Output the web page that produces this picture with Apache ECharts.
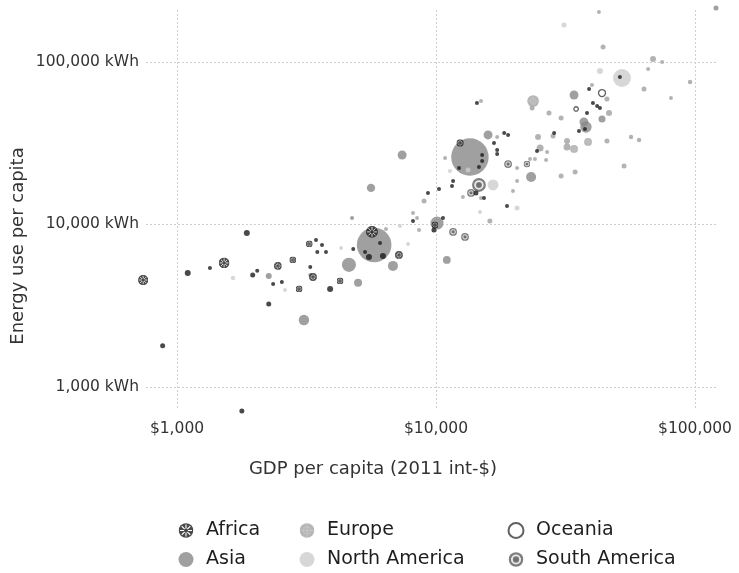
<!DOCTYPE html>
<html>
<head>
<meta charset="utf-8">
<script src="https://cdn.jsdelivr.net/npm/echarts@6/dist/echarts.min.js"></script>
<style>
  html, body { margin: 0; padding: 0; background: #fff; }
  #chart { width: 739px; height: 573px; }
</style>
</head>
<body>
<div id="chart"></div>
<script>
// Each row: [GDP per capita (2011 int-$), energy use per capita (kWh), population (millions)]
const africa = [
  [740, 4550, 110], [880, 1790, 25], [1780, 710, 25], [1100, 5030, 36],
  [1340, 5400, 16], [1520, 5800, 120], [1860, 8870, 36], [2040, 5180, 16],
  [1960, 4890, 25], [2350, 4300, 16], [2260, 3240, 25], [2450, 5560, 64],
  [2540, 4430, 16], [2800, 6050, 49], [2960, 4010, 49], [3240, 7590, 49],
  [3440, 8030, 16], [3630, 7480, 16], [3480, 6770, 16], [3760, 6770, 16],
  [3270, 5470, 16], [3350, 4750, 64], [3900, 4010, 36], [4260, 4490, 49],
  [4790, 7070, 16], [5660, 9000, 150], [5510, 6310, 36], [6240, 6400, 36],
  [7190, 6490, 64], [5320, 6770, 16], [6080, 7690, 16], [8150, 10500, 16],
  [9910, 9930, 49], [9820, 9250, 25], [10640, 10960, 16], [9310, 15630, 16],
  [10270, 16530, 16], [11640, 18530, 16], [11530, 17260, 16], [12390, 31750, 55],
  [12270, 22270, 16], [15070, 26780, 16], [15070, 24600, 16], [14650, 22590, 16],
  [17220, 27160, 16], [14390, 55980, 16], [16750, 31750, 16], [17220, 28710, 16],
  [18330, 36560, 16], [18980, 35560, 16], [14260, 15630, 25], [15320, 14560, 16],
  [18800, 13000, 16], [24550, 28310, 16], [28580, 36560, 16], [35650, 37580, 16],
  [37580, 38730, 16], [38280, 48530, 16], [40360, 55980, 16], [41880, 53580, 16],
  [42950, 52120, 16], [39000, 68200, 16], [51290, 80910, 16]
];

const asia = [
  [5770, 7480, 1200], [13520, 26000, 1400], [4610, 5640, 200], [6820, 5560, 100],
  [5000, 4370, 64], [3090, 2580, 110], [5610, 16790, 70], [7400, 26780, 80],
  [10090, 10200, 170], [11010, 6050, 60], [15880, 35560, 80], [23290, 19590, 100],
  [34120, 62660, 80], [37930, 39810, 130], [37250, 42760, 80], [43750, 44570, 50],
  [4740, 10960, 16], [2260, 4820, 36], [3270, 4890, 9], [120500, 214800, 25]
];

const europe = [
  [23710, 57540, 144], [23500, 52120, 25], [38640, 32210, 64], [32060, 30000, 49],
  [34120, 29170, 64], [32060, 32660, 36], [25230, 29580, 49], [24770, 34510, 36],
  [28310, 35070, 25], [30410, 45190, 25], [27300, 48530, 25], [30410, 19860, 25],
  [34440, 21040, 25], [45710, 59160, 25], [46560, 48530, 36], [45710, 32660, 25],
  [56620, 34510, 20], [60810, 33110, 20], [53210, 22910, 25], [63530, 68200, 25],
  [68850, 104300, 36], [74640, 100000, 16], [65920, 90580, 16], [95700, 75340, 20],
  [80750, 59980, 12], [42560, 203100, 16], [44160, 123700, 25], [40000, 72140, 12],
  [20560, 22270, 16], [20560, 18530, 16], [19820, 16070, 16], [24100, 25290, 16],
  [26610, 24940, 16], [26850, 27930, 16], [23070, 25290, 16], [17220, 34510, 16],
  [16140, 10510, 25], [10840, 25650, 16], [8990, 13960, 25], [8150, 11780, 16],
  [8450, 10960, 16], [8600, 9250, 16], [6410, 9380, 16], [12700, 14760, 16],
  [14920, 14560, 16], [14920, 57540, 12]
];

const northAmerica = [
  [52240, 79770, 320], [42950, 88100, 36], [31190, 169000, 25], [16600, 17500, 120],
  [20560, 12650, 25], [14790, 11940, 12], [13300, 21620, 25], [11320, 21310, 16],
  [7800, 7590, 16], [7260, 9790, 12], [4300, 7170, 16], [1645, 4690, 20],
  [2610, 3950, 12]
];

const oceania = [
  [43750, 64420, 49], [34750, 51400, 20]
];

const southAmerica = [
  [14650, 17500, 200], [18980, 23550, 64], [22440, 23550, 49],
  [11640, 9000, 64], [12940, 8380, 64], [13650, 15630, 64]
];

const xTicks = [1000, 10000, 100000];
const yTicks = [1000, 10000, 100000];

const FONT = '"DejaVu Sans", Verdana, sans-serif';

// Patterned circle symbols drawn as small SVG images
function svgSymbol(body) {
  const svg = "<svg xmlns='http://www.w3.org/2000/svg' width='40' height='40' viewBox='0 0 40 40'>" + body + "</svg>";
  return 'image://data:image/svg+xml;charset=utf-8,' + encodeURIComponent(svg);
}
function spokes(r0, r1, color, w) {
  let s = '';
  for (let i = 0; i < 8; i++) {
    const a = i * Math.PI / 4;
    s += "<line x1='" + (20 + r0 * Math.cos(a)).toFixed(2) + "' y1='" + (20 + r0 * Math.sin(a)).toFixed(2) +
         "' x2='" + (20 + r1 * Math.cos(a)).toFixed(2) + "' y2='" + (20 + r1 * Math.sin(a)).toFixed(2) +
         "' stroke='" + color + "' stroke-width='" + w + "'/>";
  }
  return s;
}
const africaSymbol = svgSymbol(
  "<circle cx='20' cy='20' r='19.5' fill='#1c1c1c'/>" + spokes(5, 16, '#ffffff', 3) +
  "<circle cx='20' cy='20' r='4' fill='#1c1c1c'/>"
);
const europeSymbol = svgSymbol(
  "<circle cx='20' cy='20' r='19.5' fill='#a5a5a5'/>" +
  "<circle cx='20' cy='20' r='10' fill='none' stroke='#bcbcbc' stroke-width='2'/>" +
  "<line x1='20' y1='2' x2='20' y2='38' stroke='#bcbcbc' stroke-width='2'/>" +
  "<line x1='2' y1='20' x2='38' y2='20' stroke='#bcbcbc' stroke-width='2'/>"
);
const southAmericaSymbol = svgSymbol(
  "<circle cx='20' cy='20' r='19.5' fill='#5e5e5e'/>" +
  "<circle cx='20' cy='20' r='11' fill='none' stroke='#e4e4e4' stroke-width='5'/>" +
  "<circle cx='20' cy='20' r='5.5' fill='#4a4a4a'/>"
);

function bubbleSize(d) { return Math.max(4, Math.sqrt(d[2])); }

// Larger bubbles first so small ones stay visible; tiny ones use a plain circle
function items(rows, patternFrom) {
  return rows.slice().sort((a, b) => b[2] - a[2]).map(r => {
    const item = { value: r };
    if (patternFrom && bubbleSize(r) < patternFrom) item.symbol = 'circle';
    return item;
  });
}

function isPow10(v) {
  const l = Math.log10(v);
  return Math.abs(l - Math.round(l)) < 1e-6;
}

const splitLineStyle = { color: '#cfcfcf', width: 1, type: [2, 2] };

const chart = echarts.init(document.getElementById('chart'), null, { renderer: 'canvas' });

function scatter(name, data, extra) {
  return Object.assign({
    name: name,
    type: 'scatter',
    data: data,
    symbolSize: d => bubbleSize(d),
    symbolKeepAspect: true,
    clip: false,
    emphasis: { disabled: true }
  }, extra);
}

const legendText = { fontSize: 19, lineHeight: 19, color: '#1e1e1e', fontFamily: FONT };
const legendCommon = {
  orient: 'vertical', top: 521, padding: 0, itemWidth: 30, itemHeight: 15, itemGap: 10,
  textStyle: legendText, selectedMode: false
};

chart.setOption({
  backgroundColor: '#ffffff',
  animation: false,
  grid: { left: 146, right: 22, top: 10, bottom: 163, containLabel: false, outerBoundsMode: 'none' },
  xAxis: {
    type: 'log', logBase: 10, min: 759, max: 121600,
    axisLine: { show: false }, axisTick: { show: false },
    splitLine: { show: true, showMinLine: false, showMaxLine: false, lineStyle: splitLineStyle },
    axisLabel: {
      color: '#333', fontSize: 15.5, fontFamily: FONT, margin: 11,
      showMinLabel: false, showMaxLabel: false,
      formatter: v => (isPow10(v) && xTicks.indexOf(Math.round(v)) >= 0) ? '$' + Math.round(v).toLocaleString('en-US') : ''
    }
  },
  yAxis: {
    type: 'log', logBase: 10, min: 721, max: 209000,
    axisLine: { show: false }, axisTick: { show: false },
    splitLine: { show: true, showMinLine: false, showMaxLine: false, lineStyle: splitLineStyle },
    axisLabel: {
      color: '#333', fontSize: 15.5, fontFamily: FONT, margin: 7,
      showMinLabel: false, showMaxLabel: false,
      formatter: v => (isPow10(v) && yTicks.indexOf(Math.round(v)) >= 0) ? Math.round(v).toLocaleString('en-US') + ' kWh' : ''
    }
  },
  legend: [
    Object.assign({ left: 171, data: ['Africa', 'Asia'] }, legendCommon),
    Object.assign({ left: 292, data: ['Europe', 'North America'] }, legendCommon),
    Object.assign({ left: 501, data: ['Oceania', 'South America'] }, legendCommon)
  ],
  graphic: [
    {
      type: 'text', x: 18, y: 246, rotation: Math.PI / 2, silent: true,
      style: { text: 'Energy use per capita', font: '18px ' + FONT, fill: '#333',
               align: 'center', verticalAlign: 'middle', textAlign: 'center', textVerticalAlign: 'middle' }
    },
    {
      type: 'text', x: 373, y: 469, silent: true,
      style: { text: 'GDP per capita (2011 int-$)', font: '18px ' + FONT, fill: '#333',
               align: 'center', verticalAlign: 'middle', textAlign: 'center', textVerticalAlign: 'middle' }
    }
  ],
  series: [
    scatter('Asia', items(asia), { symbol: 'circle', itemStyle: { color: '#888888' } }),
    scatter('Europe', items(europe, 8), { symbol: europeSymbol, itemStyle: { color: '#a0a0a0' } }),
    scatter('North America', items(northAmerica), { symbol: 'circle', itemStyle: { color: '#cdcdcd' } }),
    scatter('South America', items(southAmerica, 6), { symbol: southAmericaSymbol, itemStyle: { color: '#5e5e5e' } }),
    scatter('Oceania', items(oceania), { symbol: 'circle', itemStyle: { color: '#ffffff', borderColor: '#3a3a3a', borderWidth: 1.3 } }),
    scatter('Africa', items(africa, 7), { symbol: africaSymbol, itemStyle: { color: '#1c1c1c' } })
  ]
});
</script>
</body>
</html>
